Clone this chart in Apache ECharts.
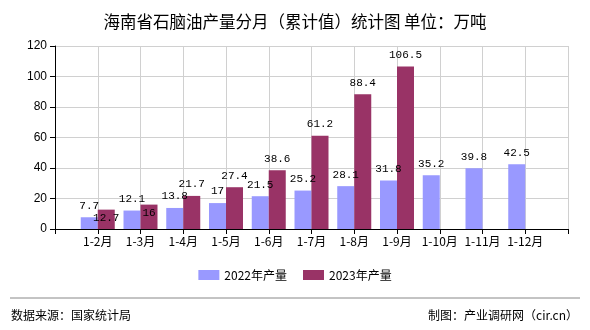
<!DOCTYPE html>
<html><head><meta charset="utf-8">
<script src="https://cdn.jsdelivr.net/npm/echarts@6/dist/echarts.min.js"></script>
<style>html,body{margin:0;padding:0;background:#fff}#c{width:590px;height:330px}</style>
</head><body><div id="c"></div>
<script>
const categories = ['1-2月','1-3月','1-4月','1-5月','1-6月','1-7月','1-8月','1-9月','1-10月','1-11月','1-12月'];
const values2022 = [7.7, 12.1, 13.8, 17, 21.5, 25.2, 28.1, 31.8, 35.2, 39.8, 42.5];
const values2023 = [12.7, 16, 21.7, 27.4, 38.6, 61.2, 88.4, 106.5, null, null, null];
const seriesNames = ['2022年产量', '2023年产量'];
const yTicks = [0, 20, 40, 60, 80, 100, 120];

const cats = [''].concat(categories, ['']);
function pad(arr, innerLabelIdx) {
  const out = [{value: '-'}];
  arr.forEach((v, i) => {
    if (v === null) { out.push({value: '-'}); return; }
    const item = {value: v};
    if (innerLabelIdx && innerLabelIdx.indexOf(i) >= 0) {
      item.label = {position: 'insideTop', distance: 3};
    }
    out.push(item);
  });
  out.push({value: '-'});
  return out;
}
const labelFont = {fontFamily: 'Liberation Mono', fontSize: 11, color: '#000'};
const chart = echarts.init(document.getElementById('c'), null, {renderer: 'canvas'});
chart.setOption({
  animation: false,
  backgroundColor: '#fff',
  title: {
    text: '海南省石脑油产量分月（累计值）统计图 单位：万吨',
    left: 'center', top: 8,
    textStyle: {fontFamily: 'Noto Sans CJK SC', fontSize: 16.5, fontWeight: 'normal', color: '#000'}
  },
  legend: {
    data: seriesNames,
    bottom: 44, left: 'center',
    itemWidth: 21, itemHeight: 10, itemGap: 16,
    textStyle: {fontFamily: 'Noto Sans CJK SC', fontSize: 12, color: '#000'},
    icon: 'rect'
  },
  grid: {left: 55, right: 22, top: 46, bottom: 101, containLabel: false},
  xAxis: {
    type: 'category', data: cats, boundaryGap: false,
    axisLine: {lineStyle: {color: '#000', width: 1}},
    axisTick: {show: true, length: 5, lineStyle: {color: '#000'}},
    axisLabel: {fontFamily: 'Noto Sans CJK SC', fontSize: 12, color: '#000', margin: 6, interval: 0},
    splitLine: {show: true, lineStyle: {color: '#d0d0d0', width: 1}}
  },
  yAxis: {
    type: 'value', min: yTicks[0], max: yTicks[yTicks.length - 1], interval: 20,
    axisLine: {show: true, lineStyle: {color: '#000', width: 1}},
    axisTick: {show: true, length: 5, lineStyle: {color: '#000'}},
    axisLabel: {fontFamily: 'Liberation Sans', fontSize: 12, color: '#000', margin: 8},
    splitLine: {show: true, lineStyle: {color: '#d0d0d0', width: 1}}
  },
  series: [
    {name: seriesNames[0], type: 'bar', data: pad(values2022), barWidth: 17, barGap: '0%',
     itemStyle: {color: '#9999FF'},
     label: Object.assign({show: true, position: 'top', distance: 6}, labelFont)},
    {name: seriesNames[1], type: 'bar', data: pad(values2023, [0, 1]), barWidth: 17, barGap: '0%',
     itemStyle: {color: '#993366'},
     label: Object.assign({show: true, position: 'top', distance: 6}, labelFont)}
  ],
  graphic: [
    {type: 'line', shape: {x1: 10, y1: 298, x2: 580, y2: 298}, style: {stroke: '#888', lineWidth: 1}},
    {type: 'text', left: 11, top: 309, style: {text: '数据来源：国家统计局', font: '12px "Noto Sans CJK SC"', fill: '#000'}},
    {type: 'text', right: 12, top: 309, style: {text: '制图：产业调研网（cir.cn）', font: '12px "Noto Sans CJK SC"', fill: '#000'}}
  ]
});
</script></body></html>
